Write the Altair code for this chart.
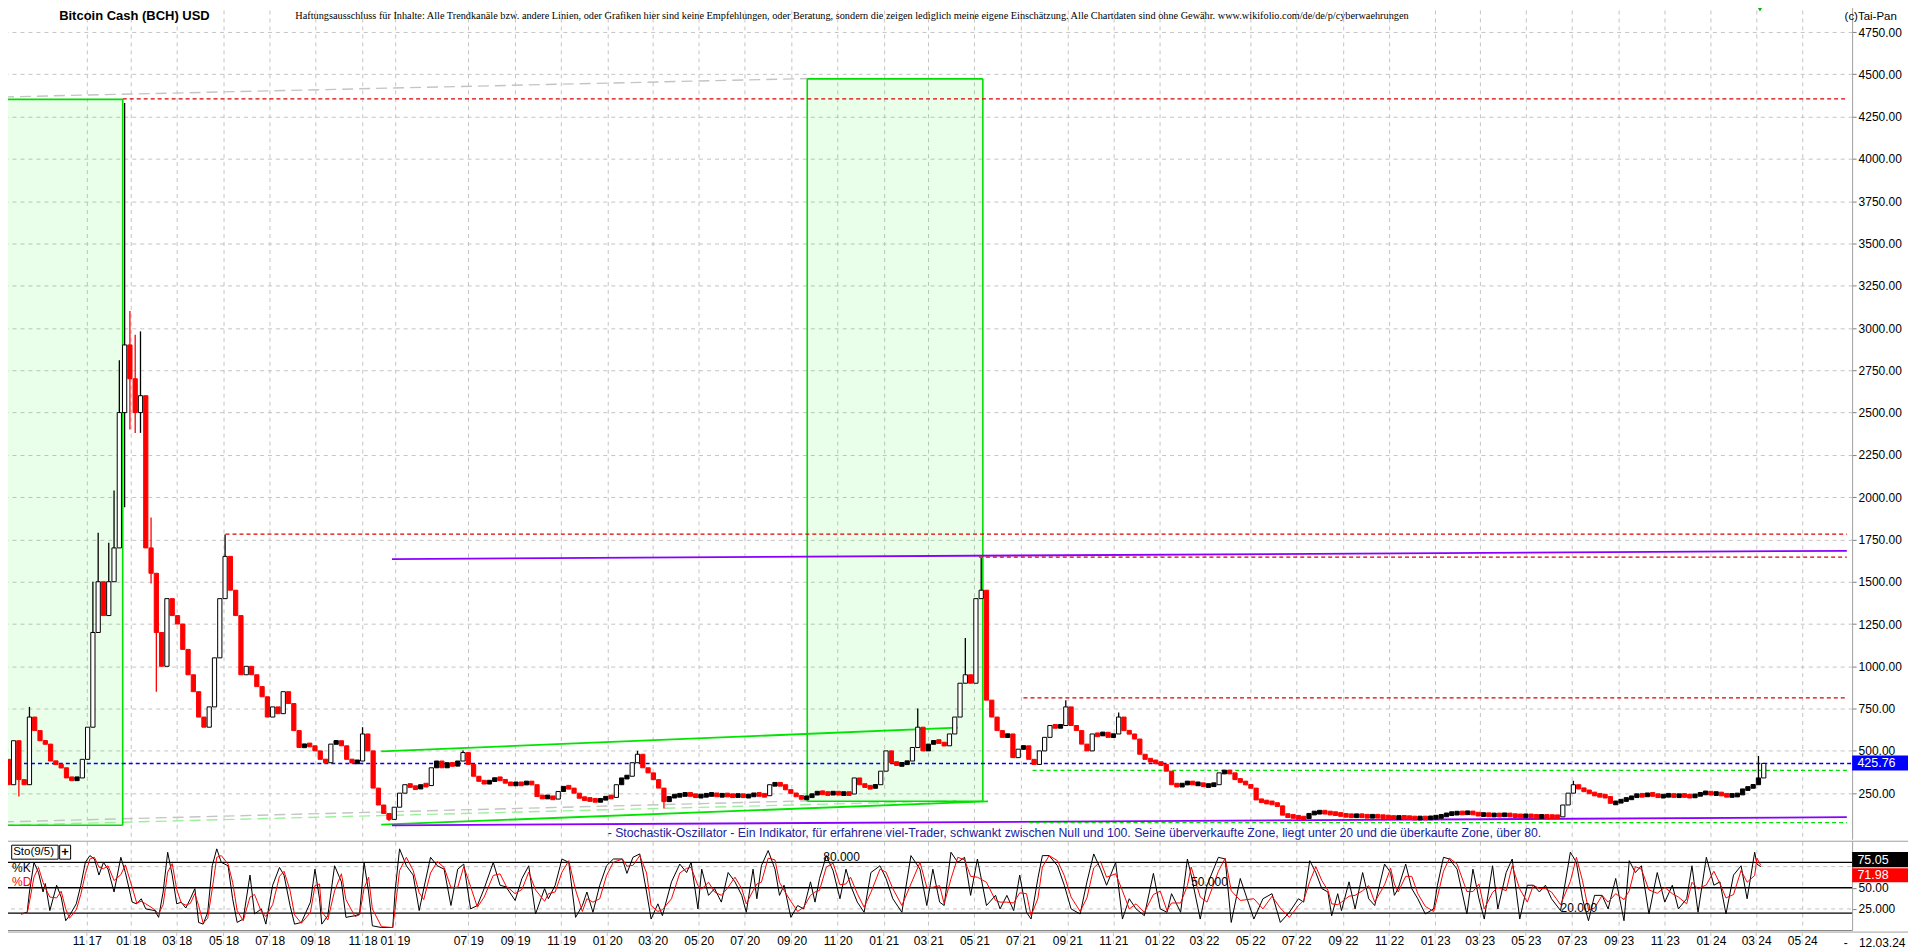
import altair as alt
import pandas as pd

# ------------------------------------------------------------------ values
# x is a bar number on the chart's (compressed) daily time axis
x_domain = [0, 2448]
right_edge_bar = 2531
price_domain = [-22.4, 4927.4]
stoch_domain = [0, 105]

tick_bars = [111, 169, 230, 292, 353, 413, 476, 519, 616, 678, 739, 800, 860, 921,
             982, 1044, 1105, 1166, 1225, 1286, 1347, 1409, 1470, 1531, 1590, 1651,
             1712, 1774, 1835, 1896, 1955, 2016, 2077, 2139, 2200, 2261, 2321, 2382]
tick_labels = ["11 17", "01 18", "03 18", "05 18", "07 18", "09 18", "11 18", "01 19",
               "07 19", "09 19", "11 19", "01 20", "03 20", "05 20", "07 20", "09 20",
               "11 20", "01 21", "03 21", "05 21", "07 21", "09 21", "11 21", "01 22",
               "03 22", "05 22", "07 22", "09 22", "11 22", "01 23", "03 23", "05 23",
               "07 23", "09 23", "11 23", "01 24", "03 24", "05 24"]
grid_only_bars = [5]

price_axis_values = [250, 500, 750, 1000, 1250, 1500, 1750, 2000, 2250, 2500, 2750,
                     3000, 3250, 3500, 3750, 4000, 4250, 4500, 4750]

# weekly candles (one close every 7 bars)
week_step = 7
first_open = 400
closes = [
    450, 300, 560, 330, 300, 700, 620, 560, 540, 440,
    420, 400, 340, 330, 340, 450, 640, 1200, 1500, 1300,
    1500, 1700, 2500, 2900, 2700, 2500, 2600, 1700, 1550, 1200,
    1000, 1400, 1300, 1250, 1100, 950, 850, 700, 640, 760,
    1050, 1400, 1650, 1450, 1300, 950, 1000, 950, 880, 820,
    700, 760, 720, 850, 780, 620, 520, 540, 530, 500,
    450, 430, 540, 560, 530, 450, 430, 440, 600, 500,
    280, 180, 130, 95, 167, 250, 300, 290, 275, 300,
    295, 400, 440, 400, 430, 410, 440, 490, 420, 350,
    320, 310, 320, 340, 330, 310, 300, 310, 300, 320,
    300, 230, 225, 230, 215, 260, 290, 280, 250, 220,
    215, 210, 205, 210, 230, 225, 300, 340, 350, 430,
    480, 400, 370, 330, 280, 200, 230, 235, 240, 245,
    240, 230, 235, 240, 245, 235, 240, 238, 232, 240,
    230, 235, 245, 240, 235, 300, 305, 300, 270, 250,
    230, 220, 225, 245, 255, 250, 245, 255, 245, 250,
    245, 340, 300, 290, 280, 300, 380, 500, 430, 420,
    420, 440, 520, 640, 500, 540, 560, 550, 530, 600,
    700, 900, 950, 900, 1400, 1450, 800, 700, 620, 580,
    600, 460, 510, 530, 450, 420, 500, 580, 650, 640,
    650, 760, 650, 620, 540, 500, 600, 590, 610, 580,
    600, 700, 620, 600, 570, 480, 450, 440, 430, 420,
    380, 300, 295, 300, 320, 300, 310, 290, 300, 300,
    370, 380, 370, 330, 320, 300, 280, 210, 200, 195,
    190, 175, 120, 115, 110, 105, 100, 130, 135, 140,
    135, 130, 128, 120, 118, 115, 118, 115, 112, 115,
    112, 110, 108, 104, 108, 106, 104, 102, 104, 102,
    106, 110, 115, 128, 130, 134, 132, 136, 130, 122,
    125, 120, 122, 120, 124, 118, 116, 115, 117, 114,
    112, 113, 112, 111, 110, 180, 250, 300, 275, 265,
    250, 240, 235, 230, 190, 195, 210, 215, 230, 240,
    235, 245, 240, 230, 235, 240, 232, 238, 235, 230,
    238, 248, 255, 245, 250, 240, 235, 238, 240, 275,
    280, 300, 340, 426]
wick_index = [3, 5, 17, 18, 20, 21, 22, 23, 24, 25, 26, 28, 29,
              42, 68, 73, 87, 120, 125, 173, 182, 185, 201, 211, 297, 332]
wick_low = [230, None, None, None, None, None, None, 1940, 2400, 2380, 2380, 1490, 850,
            None, None, 85, None, None, 160, None, None, None, None, None, None, None]
wick_high = [None, 760, 1500, 1790, 1730, 2040, 2810, 4330, 3100, 2960, 2980, 1880, 1520,
             1780, 640, None, 502, 500, None, 750, 1168, 1640, 800, 727, 323, 470]

# horizontal price levels (red = resistance, green = support, blue = last price)
red_level_value = [4355, 1781, 1645, 813]
red_level_start = [158.5, 294.6, 1292, 1351]
green_level_value = [385, 76]
green_level_start = [1363, 1358]
level_end = 2441
last_price = 425.76

# trend lines
green_trend_x1 = [500.7, 500.7]
green_trend_y1 = [497, 64]
green_trend_x2 = [1264, 1304]
green_trend_y2 = [637, 202]
purple_trend_x1 = [515, 515]
purple_trend_y1 = [60, 1634]
purple_trend_x2 = [2441, 2441]
purple_trend_y2 = [108, 1683]
grey_dash_x1 = [0, 0]
grey_dash_y1 = [4366, 80]
grey_dash_x2 = [1064.7, 1067]
grey_dash_y2 = [4475, 205]
lgreen_dash_x1 = [0]
lgreen_dash_y1 = [60]
lgreen_dash_x2 = [1262]
lgreen_dash_y2 = [205]

# projection boxes
box_x1 = [0, 1064.7]
box_x2 = [158.5, 1297.2]
box_lo = [60, 202]
box_hi = [4352, 4473]

# marker at the top edge
marker_bar = [2326]
marker_value = [4885]

# stochastic %K: [bar, value]
stoch_k_points = [
    [24, 19], [32, 21], [35, 45], [41, 80], [47, 68], [53, 45], [56, 55], [62, 23], [71, 53],
    [77, 39], [83, 11], [88, 17], [97, 31], [103, 53], [109, 80], [115, 88], [121, 84],
    [127, 65], [133, 80], [139, 72], [147, 45], [156, 86], [162, 68], [171, 33], [177, 31],
    [183, 37], [189, 25], [201, 23], [206, 15], [212, 45], [218, 92], [224, 65], [230, 31],
    [236, 33], [242, 26], [248, 37], [254, 49], [259, 9], [265, 7], [271, 21], [277, 76],
    [283, 96], [289, 80], [298, 76], [304, 37], [310, 9], [318, 13], [327, 65], [333, 19],
    [342, 25], [348, 7], [357, 53], [366, 74], [372, 65], [380, 29], [386, 7], [395, 9],
    [407, 33], [413, 72], [419, 37], [422, 7], [430, 17], [439, 76], [448, 57], [454, 15],
    [466, 17], [472, 19], [478, 80], [484, 45], [489, 5], [501, 3], [516, 3], [519, 45],
    [525, 96], [534, 76], [543, 65], [551, 23], [557, 49], [566, 86], [575, 76], [584, 72],
    [593, 29], [602, 72], [610, 78], [619, 25], [628, 29], [637, 49], [649, 80], [658, 53],
    [666, 51], [678, 35], [687, 61], [696, 76], [705, 19], [717, 49], [722, 37], [731, 53],
    [740, 84], [749, 80], [758, 15], [767, 29], [773, 45], [781, 21], [790, 53], [799, 76],
    [808, 84], [820, 84], [826, 67], [834, 86], [843, 90], [852, 45], [858, 13], [867, 31],
    [873, 17], [885, 57], [896, 78], [905, 68], [911, 80], [920, 25],
    [925, 72], [934, 41], [942, 49], [951, 33], [960, 68], [969, 57], [978, 41], [984, 21],
    [993, 72], [998, 37], [1004, 76], [1013, 94], [1022, 72], [1028, 41], [1034, 53],
    [1043, 15], [1052, 29], [1060, 25], [1069, 57], [1075, 33], [1081, 61], [1090, 88],
    [1099, 70], [1108, 37], [1116, 72], [1122, 53], [1131, 33], [1140, 21], [1149, 68],
    [1161, 76], [1169, 61], [1178, 37], [1190, 21], [1202, 88], [1214, 72], [1223, 29],
    [1231, 72], [1240, 33], [1246, 29], [1255, 92], [1264, 80], [1273, 86], [1281, 41],
    [1290, 84], [1302, 29], [1314, 41], [1320, 25], [1329, 41], [1338, 23], [1346, 65],
    [1355, 21], [1361, 13], [1370, 61], [1376, 88], [1385, 88], [1396, 76], [1405, 53],
    [1414, 25], [1426, 19], [1435, 57], [1444, 90], [1453, 72], [1461, 53], [1473, 80],
    [1482, 13], [1491, 37], [1500, 25], [1511, 17], [1523, 67], [1532, 25], [1541, 21],
    [1547, 43], [1559, 21], [1568, 84], [1573, 65], [1585, 13], [1594, 53], [1609, 86],
    [1618, 84], [1626, 9], [1638, 61], [1656, 13], [1668, 37], [1680, 43], [1691, 9],
    [1703, 21], [1715, 37],
    [1722, 33], [1730, 82], [1738, 68], [1746, 49], [1754, 45], [1759, 17], [1767, 43],
    [1772, 23], [1782, 57], [1790, 25], [1800, 68], [1808, 37], [1816, 29], [1829, 78],
    [1837, 68], [1842, 41], [1847, 49], [1857, 78], [1865, 49], [1873, 37], [1883, 19],
    [1894, 25], [1899, 53], [1907, 86], [1915, 84], [1925, 72], [1938, 19], [1946, 72],
    [1954, 37], [1961, 13], [1972, 76], [1979, 25], [1990, 68], [1998, 84], [2008, 13],
    [2018, 53], [2026, 53], [2034, 45], [2042, 53], [2050, 37], [2062, 23], [2075, 92],
    [2083, 80], [2091, 37], [2099, 11], [2107, 41], [2117, 41], [2125, 25], [2135, 61],
    [2146, 11], [2153, 82], [2161, 68], [2169, 76], [2179, 19], [2190, 68], [2200, 33],
    [2210, 53], [2218, 25], [2229, 37], [2236, 76], [2244, 21], [2255, 86], [2265, 53],
    [2273, 57], [2281, 19], [2291, 65], [2301, 76], [2309, 37], [2319, 92], [2322, 78],
    [2327, 75]]
stoch_solid_levels = [20, 50, 80]
stoch_dashed_levels = [25, 75]

last_price_text = "425.76"
last_k_text = "75.05"
last_d_text = "71.98"

# ------------------------------------------------------------------ scales & axes
FONT = "Liberation Sans"
GRID = "#c4c4c4"
AXISLINE = "#a0a0a0"
xs = alt.Scale(domain=x_domain, nice=False, zero=False)
ys = alt.Scale(domain=price_domain, nice=False, zero=False)
ss = alt.Scale(domain=stoch_domain, nice=False, zero=False)

grid_bars = grid_only_bars + tick_bars
grid_labels = [""] + tick_labels
label_expr = ("[" + ",".join("'" + s + "'" for s in grid_labels) + "][indexof(["
              + ",".join(str(b) for b in grid_bars) + "], datum.value)]")

AXES = {
    "m": (
        alt.Axis(values=grid_bars, labels=False, ticks=False, domain=False, grid=True,
                 gridColor=GRID, gridDash=[4, 4], title=None),
        alt.Axis(orient="right", values=price_axis_values, format=".2f", grid=True,
                 gridColor=GRID, gridDash=[4, 4], domainColor=AXISLINE,
                 tickColor="#808080", tickSize=4, labelPadding=2, title=None,
                 labelFontSize=12, labelColor="#000000", labelFont=FONT),
        ys),
    "s": (
        alt.Axis(orient="bottom", values=grid_bars, labelExpr=label_expr, grid=True,
                 gridColor=GRID, gridDash=[4, 4], ticks=False, tickSize=0, domain=True,
                 domainColor="#808080", labelPadding=5, labelBaseline="top",
                 labelFontSize=12, labelColor="#000000", labelFont=FONT, title=None,
                 labelOverlap=False, labelFlush=False),
        alt.Axis(orient="right", values=[25, 50],
                 labelExpr="datum.value == 25 ? '25.000' : '50.00'", grid=False,
                 domainColor=AXISLINE, tickColor="#808080", tickSize=4, labelPadding=2,
                 title=None, labelFontSize=12, labelColor="#000000", labelFont=FONT),
        ss),
}


def X(f, p):
    return alt.X(f + ":Q", scale=xs, axis=AXES[p][0])


def Y(f, p):
    return alt.Y(f + ":Q", scale=AXES[p][2], axis=AXES[p][1])


def text_layer(xv, yv, tv, p, **kw):
    df = pd.DataFrame({"x": xv, "y": yv, "t": tv})
    kw.setdefault("font", FONT)
    return alt.Chart(df).mark_text(**kw).encode(x=X("x", p), y=Y("y", p), text="t:N")


def seg_layer(x1, y1, x2, y2, p, **kw):
    df = pd.DataFrame({"x1": x1, "y1": y1, "x2": x2, "y2": y2})
    return alt.Chart(df).mark_rule(**kw).encode(x=X("x1", p), x2="x2:Q", y=Y("y1", p), y2="y2:Q")


def hline_layer(values, x1, x2, p, **kw):
    df = pd.DataFrame({"v": values, "x1": x1, "x2": x2})
    return alt.Chart(df).mark_rule(**kw).encode(x=X("x1", p), x2="x2:Q", y=Y("v", p))


def rect_layer(x1, x2, lo, hi, p, **kw):
    df = pd.DataFrame({"x1": x1, "x2": x2, "lo": lo, "hi": hi})
    return alt.Chart(df).mark_rect(**kw).encode(x=X("x1", p), x2="x2:Q", y=Y("lo", p), y2="hi:Q")


# ------------------------------------------------------------------ candles
n = len(closes)
opens = [first_open] + closes[:-1]
cd = pd.DataFrame({"bar": [i * week_step for i in range(n)], "o": opens, "c": closes})
cd["up"] = cd["c"] >= cd["o"]
cd["blo"] = cd[["o", "c"]].min(axis=1)
cd["bhi"] = cd[["o", "c"]].max(axis=1)
min_body = 22
hollow_min = 45
cd["tall"] = (cd["bhi"] - cd["blo"]) >= hollow_min
thin = (cd["bhi"] - cd["blo"]) < min_body
mid = (cd["bhi"] + cd["blo"]) / 2
cd.loc[thin, "blo"] = mid[thin] - min_body / 2
cd.loc[thin, "bhi"] = mid[thin] + min_body / 2
cd["lo"] = cd["blo"]
cd["hi"] = cd["bhi"]
for idx, lo, hi in zip(wick_index, wick_low, wick_high):
    if lo is not None:
        cd.loc[idx, "lo"] = min(cd.loc[idx, "lo"], lo)
    if hi is not None:
        cd.loc[idx, "hi"] = max(cd.loc[idx, "hi"], hi)
half = week_step / 2 - 0.7
cd["x1"] = cd["bar"] - half
cd["x2"] = cd["bar"] + half
wk = cd[(cd["lo"] < cd["blo"]) | (cd["hi"] > cd["bhi"])]

wick_red = alt.Chart(wk[~wk["up"]]).mark_rule(color="#ff0000", strokeWidth=1.3).encode(
    x=X("bar", "m"), y=Y("lo", "m"), y2="hi:Q")
wick_blk = alt.Chart(wk[wk["up"]]).mark_rule(color="#000000", strokeWidth=1.3).encode(
    x=X("bar", "m"), y=Y("lo", "m"), y2="hi:Q")
body_red = alt.Chart(cd[~cd["up"]]).mark_rect(fill="#ff0000", stroke="#ff0000", strokeWidth=1).encode(
    x=X("x1", "m"), x2="x2:Q", y=Y("blo", "m"), y2="bhi:Q")
body_up = alt.Chart(cd[cd["up"] & cd["tall"]]).mark_rect(fill="#ffffff", stroke="#000000", strokeWidth=1).encode(
    x=X("x1", "m"), x2="x2:Q", y=Y("blo", "m"), y2="bhi:Q")
body_up_small = alt.Chart(cd[cd["up"] & ~cd["tall"]]).mark_rect(fill="#000000", stroke="#000000",
                                                                 strokeWidth=1).encode(
    x=X("x1", "m"), x2="x2:Q", y=Y("blo", "m"), y2="bhi:Q")

# ------------------------------------------------------------------ main panel
frame_top = hline_layer([price_domain[1] - 6], [x_domain[0]], [x_domain[1]], "m",
                        color="#000000", strokeWidth=2)
frame_left = seg_layer([0.7], [price_domain[0]], [0.7], [price_domain[1]], "m",
                       color="#000000", strokeWidth=1.2)

box_fill = rect_layer(box_x1, box_x2, box_lo, box_hi, "m", fill="#00ff00", opacity=0.085)
box_edges = seg_layer(
    [box_x1[0], box_x1[0], box_x2[0], box_x1[1], box_x1[1], box_x1[1], box_x2[1]],
    [box_hi[0], box_lo[0], box_lo[0], box_hi[1], box_lo[1], box_lo[1], box_lo[1]],
    [box_x2[0], box_x2[0], box_x2[0], box_x2[1], box_x2[1], box_x1[1], box_x2[1]],
    [box_hi[0], box_lo[0], box_hi[0], box_hi[1], box_lo[1], box_hi[1], box_hi[1]],
    "m", color="#00dd00", strokeWidth=1.6)

green_trend = seg_layer(green_trend_x1, green_trend_y1, green_trend_x2, green_trend_y2, "m",
                        color="#00e400", strokeWidth=1.8)
purple_trend = seg_layer(purple_trend_x1, purple_trend_y1, purple_trend_x2, purple_trend_y2, "m",
                         color="#8a00ff", strokeWidth=1.8)
grey_dash = seg_layer(grey_dash_x1, grey_dash_y1, grey_dash_x2, grey_dash_y2, "m",
                      color="#c4c4c4", strokeWidth=1.4, strokeDash=[11, 6])
lgreen_dash = seg_layer(lgreen_dash_x1, lgreen_dash_y1, lgreen_dash_x2, lgreen_dash_y2, "m",
                        color="#9cf09c", strokeWidth=1.4, strokeDash=[11, 6])

red_levels = hline_layer(red_level_value, red_level_start, [level_end] * len(red_level_value), "m",
                         color="#e00000", strokeWidth=1.3, strokeDash=[4, 3])
green_levels = hline_layer(green_level_value, green_level_start, [level_end] * len(green_level_value), "m",
                           color="#00e000", strokeWidth=1.3, strokeDash=[4, 3])
blue_level = hline_layer([last_price], [0], [x_domain[1]], "m", color="#0000ff", strokeWidth=1.4,
                         strokeDash=[4, 3])

price_tag = rect_layer([x_domain[1]], [right_edge_bar], [384], [472], "m", fill="#0000ff")
price_tag_text = text_layer([2455], [last_price], [last_price_text], "m", fontSize=12.5, color="#ffffff",
                            align="left", baseline="middle")

marker = alt.Chart(pd.DataFrame({"x": marker_bar, "y": marker_value})).mark_point(
    shape="triangle-down", filled=True, color="#00b000", size=28, opacity=1).encode(
    x=X("x", "m"), y=Y("y", "m"))

title_t = text_layer([174], [4846], ["Bitcoin Cash (BCH) USD"], "m", fontSize=13, fontWeight="bold",
                     color="#000000", align="center", baseline="middle")
disclaimer_t = text_layer([387], [4846], [
    "Haftungsausschluss für Inhalte: Alle Trendkanäle bzw. andere Linien, oder Grafiken hier sind keine "
    "Empfehlungen, oder Beratung, sondern die zeigen lediglich meine eigene Einschätzung. Alle Chartdaten "
    "sind ohne Gewähr.  www.wikifolio.com/de/de/p/cyberwaehrungen"], "m",
    font="Liberation Serif", fontSize=10.3, color="#000000", align="left", baseline="middle")
taipan_t = text_layer([2438], [4840], ["(c)Tai-Pan"], "m", fontSize=11.5, color="#000000", align="left",
                      baseline="middle")
stoch_info_t = text_layer([800.5], [13], [
    "- Stochastik-Oszillator - Ein Indikator, für erfahrene viel-Trader, schwankt zwischen Null und 100. "
    "Seine überverkaufte Zone, liegt unter 20 und die überkaufte Zone, über 80."],
    "m", fontSize=12.3, color="#22229e", align="left", baseline="middle")

main = alt.layer(
    frame_top, box_fill, grey_dash, lgreen_dash, box_edges, green_trend, purple_trend,
    red_levels, green_levels, blue_level,
    wick_red, wick_blk, body_red, body_up, body_up_small, frame_left, marker,
    price_tag, price_tag_text, title_t, disclaimer_t, taipan_t, stoch_info_t
).properties(width=1853, height=839)

# ------------------------------------------------------------------ stochastic panel
sd = pd.DataFrame(stoch_k_points, columns=["bar", "k"])
sd["d"] = sd["k"].rolling(2, min_periods=1).mean()

solid_lv = hline_layer(stoch_solid_levels, [0] * 3, [x_domain[1]] * 3, "s", color="#000000",
                       strokeWidth=1.3)
dash_lv = hline_layer(stoch_dashed_levels, [0, 0], [x_domain[1]] * 2, "s", color=GRID,
                      strokeDash=[4, 4], strokeWidth=1)
k_line = alt.Chart(sd).mark_line(color="#000000", strokeWidth=1).encode(x=X("bar", "s"), y=Y("k", "s"))
d_line = alt.Chart(sd).mark_line(color="#ff0000", strokeWidth=1).encode(x=X("bar", "s"), y=Y("d", "s"))

seps = hline_layer([stoch_domain[1], -2.4], [0, 0], [right_edge_bar] * 2, "s", color=AXISLINE,
                   strokeWidth=1)
strip_ticks = seg_layer(grid_bars, [-2.4] * len(grid_bars), grid_bars, [-24] * len(grid_bars), "s",
                        color=GRID, strokeDash=[4, 4])
left_sto = seg_layer([0.7], [-24], [0.7], [stoch_domain[1]], "s", color="#000000", strokeWidth=1.2)

k_tag = rect_layer([x_domain[1]], [right_edge_bar], [74.3], [92.2], "s", fill="#000000")
d_tag = rect_layer([x_domain[1]], [right_edge_bar], [56.6], [73.1], "s", fill="#ff0000")
tag_text = text_layer([2455, 2455], [83.2, 64.9], [last_k_text, last_d_text], "s", fontSize=12.5,
                      color="#ffffff", align="left", baseline="middle")

sto_box = rect_layer([11.5, 75], [73, 89.5], [83.8, 83.8], [100.3, 100.3], "s",
                     fill="#ffffff", stroke="#000000", strokeWidth=1)
sto_name = text_layer([13.5], [92], ["Sto(9/5)"], "s", fontSize=11.5, color="#000000", align="left",
                      baseline="middle")
sto_plus = text_layer([82.2], [92], ["+"], "s", fontSize=13, fontWeight="bold", color="#000000",
                      align="center", baseline="middle")
k_lbl = text_layer([12], [73], ["%K"], "s", fontSize=12, color="#000000", align="left", baseline="middle")
d_lbl = text_layer([12], [56.6], ["%D"], "s", fontSize=12, color="#ff0000", align="left", baseline="middle")
lvl_lbl = text_layer([1086, 1573, 2062], [86, 56.6, 26], ["80.000", "50.000", "20.000"], "s", fontSize=12,
                     color="#000000", align="left", baseline="middle")
strip_t = text_layer([2437, 2457], [-15.5, -15.5], ["-", "12.03.24"], "s", fontSize=12, color="#000000",
                     align="left", baseline="middle")

stoch = alt.layer(
    solid_lv, dash_lv, k_line, d_line, seps, strip_ticks, left_sto,
    k_tag, d_tag, tag_text, sto_box, sto_name, sto_plus, k_lbl, d_lbl, lvl_lbl, strip_t
).properties(width=1853, height=89)

chart = alt.vconcat(main, stoch, spacing=0).properties(
    padding={"left": -8, "top": -8, "right": -8, "bottom": 0}, background="#ffffff"
).configure_view(stroke=None)

chart.save("out.html", embed_options={"renderer": "svg", "actions": False})
